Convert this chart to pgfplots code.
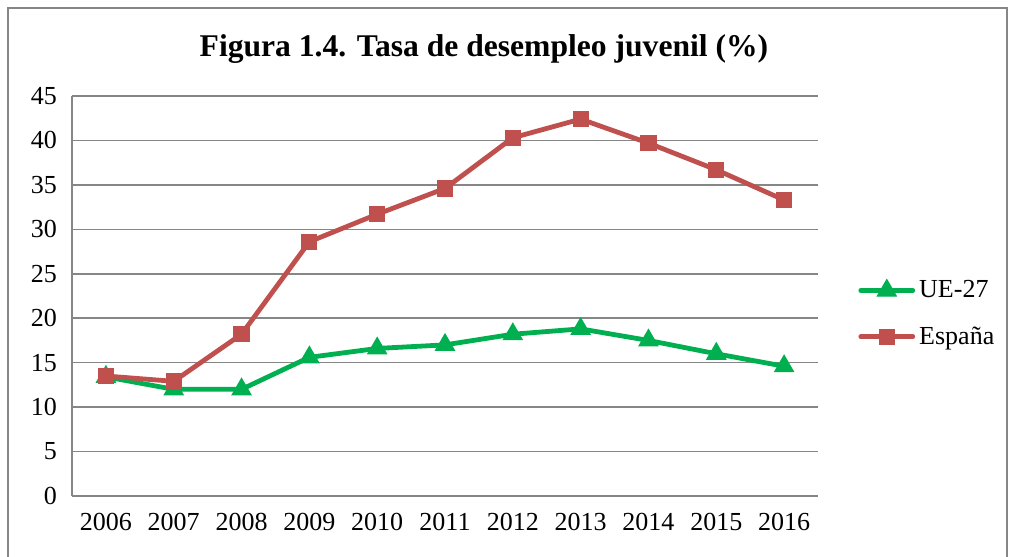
\documentclass[border=0pt]{standalone}
\usepackage{fontspec}
\setmainfont{Liberation Serif}
\usepackage{pgfplots}
\pgfplotsset{compat=1.18}
\definecolor{ueg}{HTML}{00B050}
\definecolor{esr}{HTML}{C0504D}
\definecolor{gridg}{HTML}{868686}

\begin{document}
\begin{tikzpicture}
\useasboundingbox (0,0) rectangle (505pt,278pt);
\draw[gridg, line width=0.8pt] (4pt,-5pt) -- (4pt,274pt) -- (503.5pt,274pt) -- (503.5pt,-5pt);
\node[font=\bfseries\fontsize{15.8}{18}\selectfont] at (242pt,253.5pt) {Figura 1.4. Tasa de desempleo juvenil (\%)};
\begin{axis}[
  at={(36pt,30pt)}, anchor=south west,
  scale only axis,
  width=373pt, height=200pt,
  xmin=-0.5, xmax=10.5,
  ymin=0, ymax=45,
  xtick={0,...,10},
  xticklabels={2006,2007,2008,2009,2010,2011,2012,2013,2014,2015,2016},
  ytick={0,5,...,45},
  /pgf/number format/assume math mode=true,
  tick label style={font=\fontsize{13}{15}\selectfont},
  yticklabel style={xshift=-4pt},
  xticklabel style={yshift=-5pt},
  major tick length=0pt,
  ymajorgrids,
  major grid style={gridg, line width=0.8pt},
  axis x line*=bottom, axis y line*=left,
  axis line style={gridg, line width=0.8pt, -},
  legend style={at={(393pt,110pt)}, anchor=north west, draw=none, fill=none,
    font=\fontsize{13}{15}\selectfont, row sep=9pt, inner sep=0pt},
  legend cell align=left,
  legend image code/.code={
    \draw[#1, line width=2.4pt, line cap=round] (0pt,0pt) -- (26pt,0pt);
    \draw[#1, mark repeat=2, mark phase=2] plot coordinates {(0pt,0pt) (13pt,0pt) (26pt,0pt)};
  },
]
\addplot[ueg, line width=2.4pt, mark=triangle*, mark size=5.5pt, mark options={solid, line width=0.5pt}]
  coordinates {(0,13.4) (1,12.0) (2,12.0) (3,15.6) (4,16.6) (5,17.0) (6,18.2) (7,18.8) (8,17.5) (9,16.0) (10,14.6)};
\addplot[esr, line width=2.4pt, mark=square*, mark size=3.8pt, mark options={solid, line width=0.5pt}]
  coordinates {(0,13.5) (1,12.9) (2,18.2) (3,28.6) (4,31.7) (5,34.6) (6,40.3) (7,42.4) (8,39.7) (9,36.7) (10,33.3)};
\legend{UE-27, España}
\end{axis}
\end{tikzpicture}
\end{document}
